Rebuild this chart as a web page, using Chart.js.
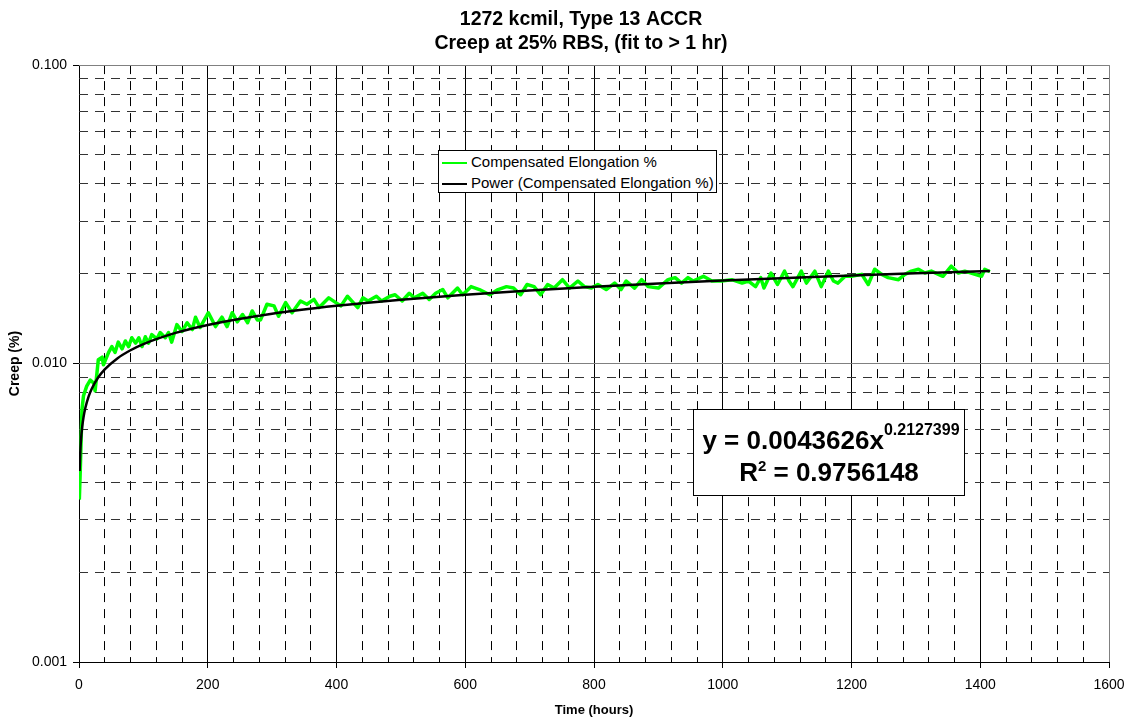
<!DOCTYPE html>
<html>
<head>
<meta charset="utf-8">
<title>1272 kcmil, Type 13 ACCR - Creep</title>
<script src="https://cdn.jsdelivr.net/npm/chart.js@4.4.1/dist/chart.umd.min.js"></script>
<style>
  html, body { margin: 0; padding: 0; background: #fff; }
  #wrap { position: relative; width: 1130px; height: 719px; font-family: "Liberation Sans", Arial, sans-serif; }
  #chart { position: absolute; left: 0; top: 0; }
  #legend {
    position: absolute; left: 438px; top: 150px; width: 277px; height: 41px;
    border: 1px solid #000; background: #fff; font-size: 15px; color: #000;
  }
  #legend .row { height: 21px; line-height: 21px; white-space: nowrap; }
  #legend .swatch { display: inline-block; width: 25px; height: 2px; margin: 0 4px 0 3px; vertical-align: middle; }
  #equation {
    position: absolute; left: 693px; top: 409px; width: 270px; height: 85px;
    border: 1.5px solid #000; background: #fff; color: #000; font-weight: bold;
  }
  #equation .line { position: absolute; left: 0; width: 100%; text-align: center; font-size: 26px; line-height: 30px; white-space: nowrap; }
  #equation .sup { position: relative; font-size: 16px; }
</style>
</head>
<body>
<div id="wrap">
  <canvas id="chart" width="1130" height="719"></canvas>
  <div id="legend"></div>
  <div id="equation">
    <div class="line" style="top:15px; left:2px;">y = 0.0043626x<span class="sup" style="top:-14px;">0.2127399</span></div>
    <div class="line" style="top:47px;">R<span class="sup" style="top:-10px; font-size:15px;">2</span> = 0.9756148</div>
  </div>
</div>
<script>
// measured creep, hours vs %
const timeHours = [
  0.5, 2, 4.6, 7, 12, 17.5, 23, 25, 30, 36, 38, 46, 51, 56, 61, 67, 72, 77, 82, 88,
  93, 98, 103, 108, 113, 121, 126, 134, 139, 144, 152, 160, 168, 176, 181, 188, 201, 212, 222, 230,
  238, 246, 254, 262, 269, 277, 282, 292, 303, 310, 321, 331, 344, 354, 365, 373, 388, 399, 407, 417,
  433, 441, 449, 462, 470, 483, 491, 502, 513, 521, 534, 544, 554, 565, 573, 588, 596, 609, 622, 638,
  651, 664, 675, 686, 696, 707, 717, 728, 738, 751, 762, 775, 785, 796, 806, 819, 832, 842, 850, 863,
  874, 884, 900, 915, 926, 936, 946, 954, 970, 983, 998, 1014, 1030, 1040, 1051, 1059, 1064, 1075, 1085, 1096,
  1103, 1109, 1122, 1130, 1143, 1153, 1164, 1172, 1179, 1190, 1200, 1216, 1226, 1236, 1247, 1257, 1273, 1283, 1293, 1304,
  1314, 1324, 1335, 1342, 1355, 1366, 1376, 1392, 1402, 1407, 1415
];
const creepPct = [
  0.0035, 0.0044, 0.0070, 0.0078, 0.0084, 0.0088, 0.0086, 0.0081, 0.0103, 0.0105, 0.0099, 0.0109, 0.0114, 0.0109, 0.0118, 0.0112, 0.0119, 0.0114, 0.0122, 0.0117,
  0.0122, 0.0114, 0.0123, 0.0117, 0.0125, 0.0121, 0.0127, 0.0122, 0.0127, 0.0118, 0.0135, 0.0128, 0.0137, 0.0130, 0.0143, 0.0132, 0.0148, 0.0133, 0.0143, 0.0133,
  0.0148, 0.0138, 0.0146, 0.0137, 0.0150, 0.0140, 0.0140, 0.0158, 0.0156, 0.0144, 0.0160, 0.0148, 0.0162, 0.0158, 0.0164, 0.0154, 0.0166, 0.0160, 0.0156, 0.0168,
  0.0154, 0.0166, 0.0162, 0.0168, 0.0162, 0.0168, 0.0170, 0.0162, 0.0172, 0.0166, 0.0172, 0.0164, 0.0172, 0.0177, 0.0166, 0.0179, 0.0170, 0.0181, 0.0177, 0.0170,
  0.0177, 0.0181, 0.0179, 0.0170, 0.0184, 0.0181, 0.0170, 0.0184, 0.0179, 0.0191, 0.0179, 0.0189, 0.0181, 0.0179, 0.0184, 0.0177, 0.0186, 0.0177, 0.0189, 0.0179,
  0.0191, 0.0181, 0.0179, 0.0191, 0.0194, 0.0186, 0.0194, 0.0189, 0.0196, 0.0189, 0.0189, 0.0191, 0.0186, 0.0189, 0.0181, 0.0194, 0.0179, 0.0201, 0.0184, 0.0204,
  0.0189, 0.0181, 0.0204, 0.0186, 0.0204, 0.0181, 0.0204, 0.0189, 0.0186, 0.0196, 0.0196, 0.0199, 0.0184, 0.0207, 0.0199, 0.0194, 0.0191, 0.0199, 0.0204, 0.0207,
  0.0201, 0.0204, 0.0199, 0.0196, 0.0212, 0.0201, 0.0204, 0.0199, 0.0196, 0.0207, 0.0203
];

// power trendline y = 0.0043626x^0.2127399, values at chosen hours
const fitHours = [1, 2, 3, 5, 7, 10, 15, 20, 30, 40, 60, 80, 100, 150, 200, 300, 400, 500, 600, 700, 800, 900, 1000, 1100, 1200, 1300, 1415];
const fitPct = [0.004363, 0.005056, 0.005511, 0.006144, 0.006600, 0.007120, 0.007762, 0.008252, 0.008995, 0.009563, 0.010424, 0.011082, 0.011621,
  0.012667, 0.013467, 0.014680, 0.015607, 0.016366, 0.017013, 0.017581, 0.018087, 0.018546, 0.018966, 0.019355, 0.019716, 0.020055, 0.020420];

const xTickStep = 40;
const xLabelStep = 200;
const yTickValues = [0.001, 0.002, 0.003, 0.004, 0.005, 0.006, 0.007, 0.008, 0.009,
  0.01, 0.02, 0.03, 0.04, 0.05, 0.06, 0.07, 0.08, 0.09, 0.1];
const yLabelValues = [0.001, 0.01, 0.1];

const FONT = '"Liberation Sans", Arial, sans-serif';
Chart.defaults.font.family = FONT;
Chart.defaults.color = '#000';

function isDecade(v) {
  return yLabelValues.some(d => Math.abs(d - v) < 1e-9);
}
function isXMajor(v) {
  return Math.abs(v % xLabelStep) < 1e-6;
}

// the title in the original sits a bit right of the canvas centre
const titleShift = {
  id: 'titleShift',
  afterLayout(chart) {
    if (chart.titleBlock) {
      chart.titleBlock.left = 32;
      chart.titleBlock.right = 1130;
    }
  }
};

function initCreepChart() {
  const ctx = document.getElementById('chart').getContext('2d');
  const chart = new Chart(ctx, {
    type: 'line',
    data: {
      datasets: [{
        label: 'Compensated Elongation %',
        data: timeHours.map((t, i) => ({ x: t, y: creepPct[i] })),
        borderColor: '#00FF00',
        borderWidth: 3.5,
        borderJoinStyle: 'round',
        pointRadius: 0,
        tension: 0,
        order: 2
      }, {
        label: 'Power (Compensated Elongation %)',
        data: fitHours.map((t, i) => ({ x: t, y: fitPct[i] })),
        borderColor: '#000000',
        borderWidth: 2.5,
        pointRadius: 0,
        cubicInterpolationMode: 'monotone',
        order: 1
      }]
    },
    plugins: [titleShift],
    options: {
      responsive: false,
      animation: false,
      events: [],
      layout: { padding: { left: 0, right: 21, top: 0, bottom: 0 } },
      plugins: {
        legend: { display: false },
        tooltip: { enabled: false },
        title: {
          display: true,
          text: ['1272 kcmil, Type 13 ACCR', 'Creep at 25% RBS, (fit to > 1 hr)'],
          color: '#000',
          font: { size: 19.5, weight: 'bold', lineHeight: 1.22 },
          padding: { top: 7.5, bottom: 10 }
        }
      },
      scales: {
        x: {
          type: 'linear',
          min: 0,
          max: 1600,
          afterFit: s => { s.height = 57; s.paddingLeft = 0; s.paddingRight = 0; },
          ticks: {
            stepSize: xTickStep,
            autoSkip: false,
            maxRotation: 0,
            minRotation: 0,
            padding: 9,
            font: { size: 14 },
            callback: v => isXMajor(v) ? String(v) : ''
          },
          grid: {
            lineWidth: 1,
            tickLength: 6,
            color: c => (c.tick && c.tick.value === 1600) ? '#808080' : '#000',
            tickColor: c => (c.tick && isXMajor(c.tick.value)) ? '#000' : 'rgba(0,0,0,0)'
          },
          border: {
            display: false,
            dash: c => (c.tick && !isXMajor(c.tick.value)) ? [9, 7] : []
          },
          title: {
            display: true,
            text: 'Time (hours)',
            font: { size: 13, weight: 'bold' },
            padding: { top: 4, bottom: 1 }
          }
        },
        y: {
          type: 'logarithmic',
          min: 0.001,
          max: 0.1,
          afterFit: s => { s.width = 79; },
          afterBuildTicks: s => { s.ticks = yTickValues.map(v => ({ value: v })); },
          ticks: {
            autoSkip: false,
            padding: 6,
            font: { size: 14 },
            callback: v => isDecade(v) ? Number(v).toFixed(3) : ''
          },
          grid: {
            lineWidth: 1,
            tickLength: 6,
            color: c => {
              if (!c.tick) return '#000';
              if (isDecade(c.tick.value)) return c.tick.value < 0.005 ? '#000' : '#808080';
              return '#333';
            },
            tickColor: c => (c.tick && isDecade(c.tick.value)) ? '#000' : 'rgba(0,0,0,0)'
          },
          border: {
            display: false,
            dash: c => (c.tick && !isDecade(c.tick.value)) ? [9, 7] : []
          },
          title: {
            display: true,
            text: 'Creep (%)',
            font: { size: 14, weight: 'bold' },
            padding: { top: 7, bottom: 0 }
          }
        }
      }
    }
  });

  // legend box built from the datasets
  const legend = document.getElementById('legend');
  chart.data.datasets.forEach(ds => {
    const row = document.createElement('div');
    row.className = 'row';
    const sw = document.createElement('span');
    sw.className = 'swatch';
    sw.style.background = ds.borderColor;
    row.appendChild(sw);
    row.appendChild(document.createTextNode(ds.label));
    legend.appendChild(row);
  });
}

document.addEventListener('DOMContentLoaded', initCreepChart);
</script>
</body>
</html>
